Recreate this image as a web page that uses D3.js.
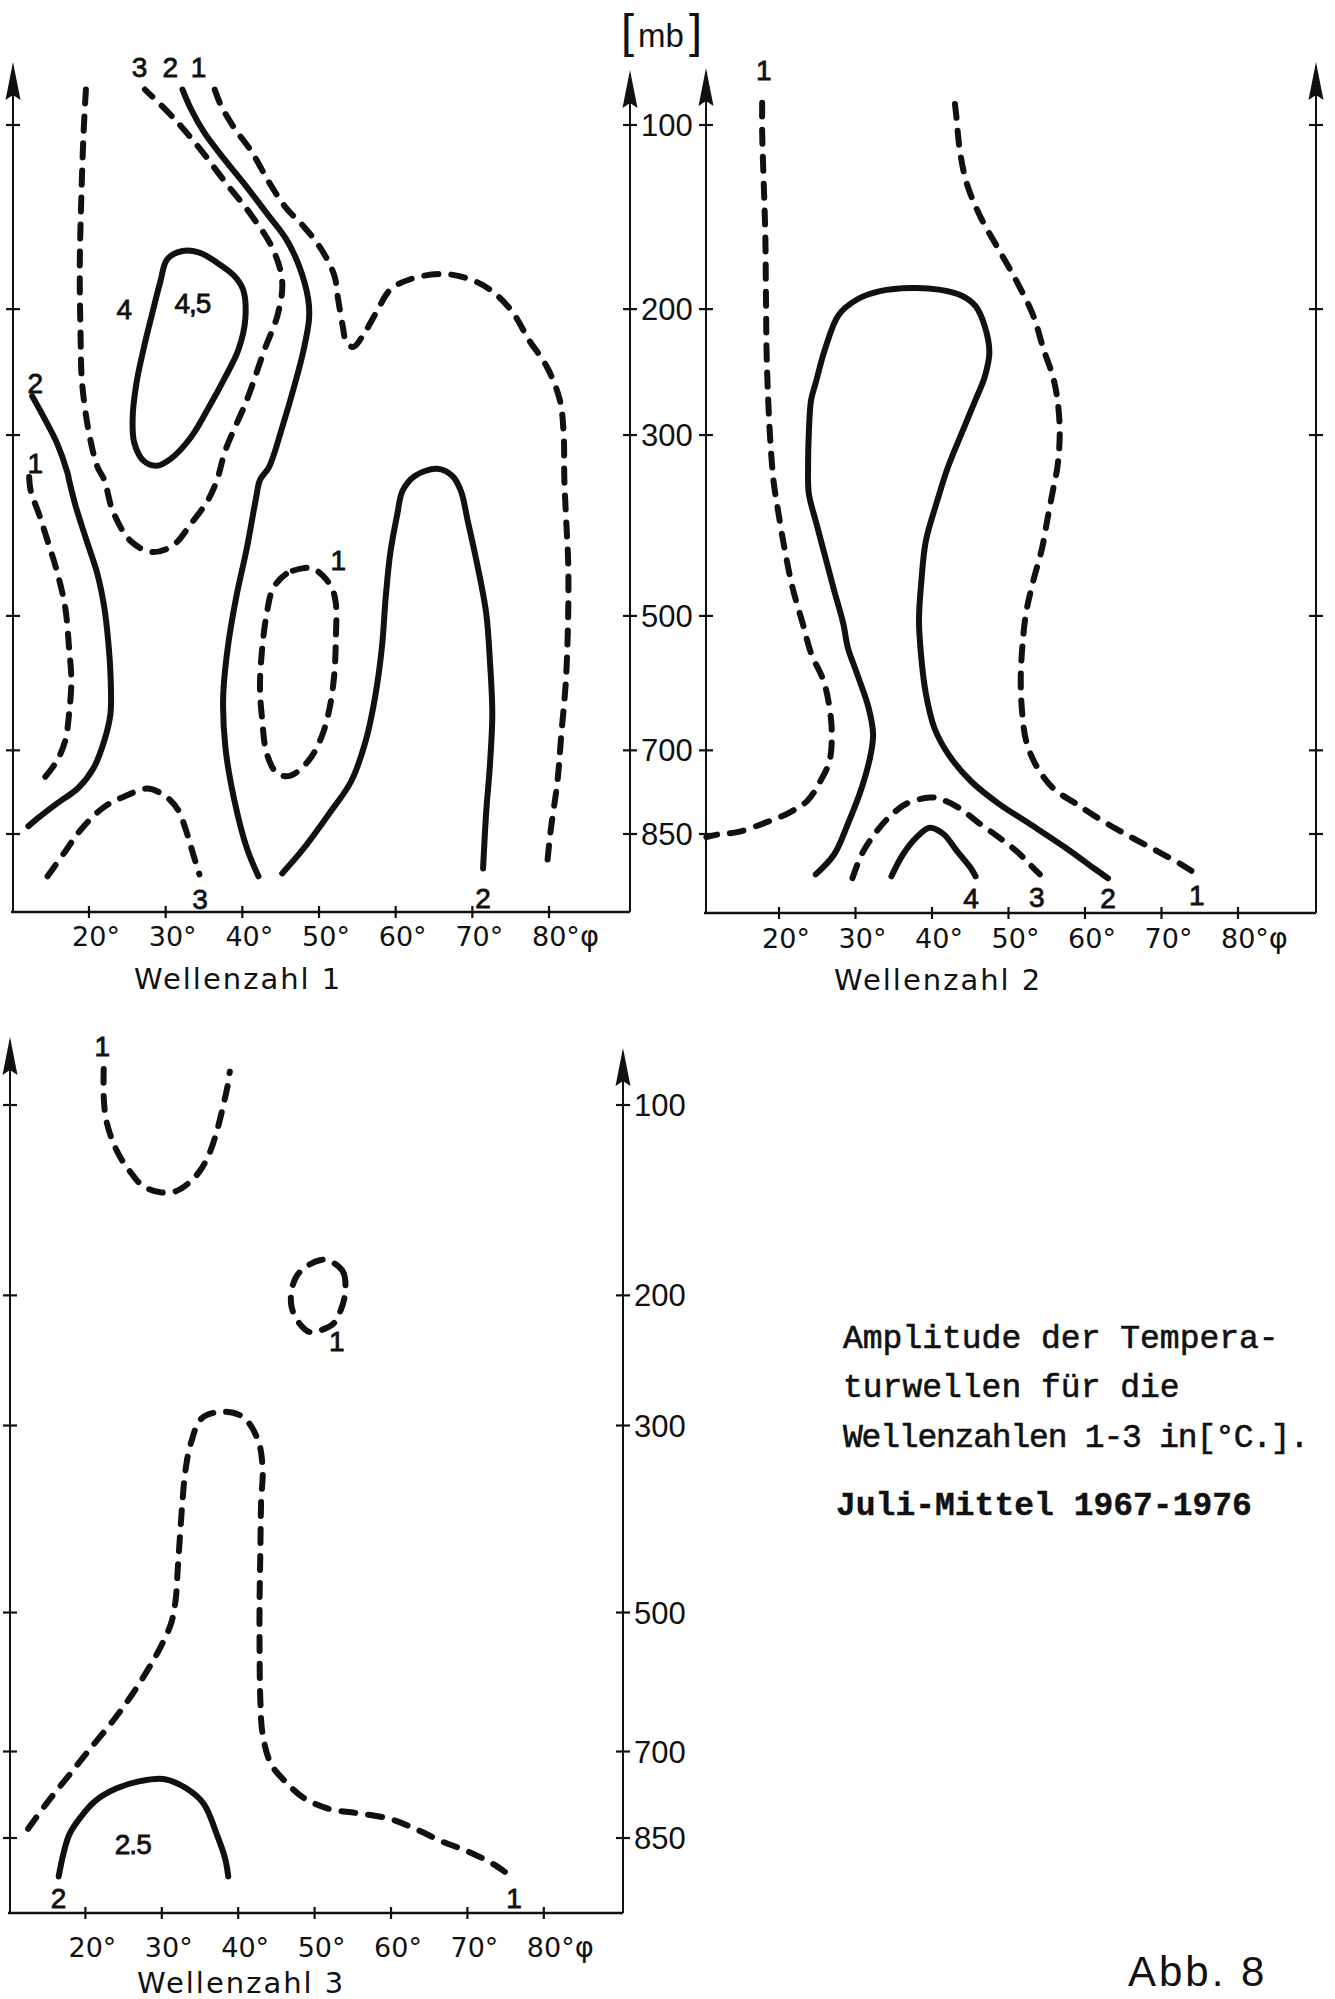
<!DOCTYPE html>
<html><head><meta charset="utf-8">
<script src="https://cdn.jsdelivr.net/npm/d3@7"></script>
<style>body{margin:0;background:#fff}</style>
</head><body>
<svg id="c" width="1335" height="1999"></svg>
<script>
// ---------- axes values ----------
const latTicks = [20, 30, 40, 50, 60, 70, 80];
const pTicks = [100, 200, 300, 500, 700, 850];
const pTickLabels = ["100", "200", "300", "500", "700", "850"];
const panelTitles = ["Wellenzahl 1", "Wellenzahl 2", "Wellenzahl 3"];

// ---------- Wellenzahl 1 contours: [latitude °, pressure mb] ----------
const w1_c3_top = [[19.6,86],[19.3,103],[19.0,134],[18.8,172],[18.9,217],[19.1,255],[20.0,298],[21.1,330],[22.0,343],[23.1,375],[25.4,408],[28.2,421],[31.0,413],[33.3,389],[35.5,364],[36.7,343],[37.8,314],[40.6,269],[42.9,229],[44.6,204],[45.2,182],[44.0,162],[41.2,143],[37.8,126],[34.4,110],[31.0,97],[27.3,86]];
const w1_c2_top = [[32.2,86],[33.3,93.5],[35.0,103],[37.2,113],[40.1,126],[43.5,143.5],[45.7,156],[47.4,172],[48.6,193.5],[48.7,207],[48.0,229],[46.9,255],[45.2,293],[43.5,330],[42.3,343],[41.8,361],[40.6,416],[39.2,476],[38.1,543],[37.5,616],[37.8,696],[38.9,783],[40.6,878],[42.1,934]];
const w1_c1_top = [[36.4,86],[37.2,92],[38.9,101],[41.2,111.5],[43.5,126],[45.7,139],[48.0,149],[50.3,162],[52.0,178],[52.5,193.5],[53.1,212],[53.6,224],[54.5,227],[55.9,217],[57.6,201],[59.3,187],[62.1,180],[66.1,177],[69.5,180],[72.3,187],[75.1,201],[77.4,222],[79.7,242],[81.4,269],[81.9,298],[82.0,343],[82.2,379],[82.5,434],[82.5,496],[82.2,590],[81.6,674],[81.1,753],[80.2,845],[79.7,918]];
const w1_c4_loop = [[32.2,163],[30.2,168],[29.3,182],[28.2,204],[27.1,229],[26.2,255],[25.7,284],[25.9,307],[27.1,324],[28.8,329],[30.7,322],[33.3,302],[35.5,277],[37.8,250],[39.5,229],[40.4,206],[40.1,187],[38.9,178],[36.7,170],[34.4,164]];
const w1_c2_left = [[12.6,266],[14.1,284],[15.8,307],[17.2,336],[17.4,343],[18.3,371],[19.7,408],[21.1,447],[22.0,489],[22.5,533],[22.8,580],[22.8,641],[22.0,684],[20.6,730],[18.6,765],[15.8,793],[13.5,818],[12.1,835]];
const w1_c1_left = [[12.2,340],[12.4,354],[13.5,379],[14.6,408],[15.8,443],[16.9,489],[17.4,543],[17.7,590],[17.4,641],[16.9,684],[15.8,718],[14.1,748],[13.2,758]];
const w1_c3_bottom = [[14.6,934],[16.9,884],[19.1,839],[22.0,799],[24.8,779],[27.6,766],[29.9,779],[31.6,804],[32.7,845],[33.6,890],[34.4,930]];
const w1_c1_loop = [[48.0,440],[45.7,447],[44.0,465],[43.2,496],[42.6,543],[42.3,600],[42.6,651],[43.2,706],[44.6,740],[46.3,743],[48.6,718],[50.3,679],[51.4,631],[52.0,580],[52.2,529],[52.2,484],[51.7,465],[50.5,449],[49.1,440]];
const w1_c2_arch = [[45.2,928],[48.0,878],[51.4,810],[54.2,753],[56.1,684],[57.3,616],[58.2,543],[58.7,476],[59.3,422],[60.2,379],[60.9,354],[62.5,339],[65.4,332],[67.4,339],[68.5,354],[69.4,386],[70.6,434],[71.8,496],[72.3,563],[72.6,641],[72.3,723],[71.8,810],[71.4,918]];
const w1_labels = [[26.6,78,"3"],[30.6,78,"2"],[34.3,78,"1"],[24.6,200,"4"],[33.5,196,"4,5"],[13.0,255,"2"],[13.0,326,"1"],[52.5,430,"1"],[34.5,982,"3"],[71.4,980,"2"]];

// ---------- Wellenzahl 2 contours ----------
const w2_c1_left = [[17.8,91],[17.8,103],[18.0,126],[18.2,152],[18.3,193.5],[18.4,236],[18.8,298],[19.3,345],[19.8,371],[20.7,416],[21.8,465],[23.1,510],[24.2,551],[25.8,590],[26.6,631],[26.9,673],[26.6,718],[25.4,753],[23.7,788],[21.3,810],[18.3,828],[14.7,846],[12.0,851],[10.5,856]];
const w2_c2 = [[24.8,930],[27.2,890],[29.0,831],[30.8,765],[32.0,706],[32.3,673],[31.7,631],[30.2,580],[29.0,543],[28.4,510],[27.2,467],[26.0,425],[24.8,386],[23.9,357],[23.8,330],[23.9,298],[24.2,269],[24.8,255],[26.0,229],[27.8,204],[30.2,193.5],[33.2,188],[37.4,186],[40.9,187],[43.9,191],[45.7,198],[46.9,212],[47.5,231],[46.9,250],[45.7,269],[43.9,298],[42.1,330],[40.7,364],[39.2,408],[38.6,457],[38.3,506],[38.6,557],[39.2,610],[40.3,663],[42.1,706],[45.1,753],[48.7,793],[52.8,831],[57.6,878],[61.2,918],[63.0,938]];
const w2_c1_right = [[43.0,91.5],[43.2,97],[43.6,110],[44.5,126],[46.3,143.5],[48.7,162],[51.1,182],[53.2,204],[54.6,229],[55.8,250],[56.4,269],[56.7,298],[56.4,330],[55.9,350],[55.2,379],[54.4,416],[53.2,457],[52.3,496],[51.8,543],[51.6,590],[51.8,641],[52.3,684],[53.5,723],[55.8,765],[58.8,793],[62.4,826],[66.0,856],[69.5,884],[72.6,910],[74.6,930]];
const w2_c3 = [[29.6,938],[30.8,890],[32.5,850],[34.4,818],[36.7,793],[39.7,782],[40.9,784],[43.3,799],[46.3,831],[48.7,856],[51.1,884],[52.8,910],[54.1,930]];
const w2_c4 = [[34.7,934],[36.2,890],[38.0,856],[39.7,838],[41.5,850],[43.3,884],[45.1,918],[45.7,934]];
const w2_labels = [[18.0,79,"1"],[45.1,980,"4"],[53.7,977,"3"],[63.0,980,"2"],[74.6,973,"1"]];

// ---------- Wellenzahl 3 contours ----------
const w3_c1_top = [[22.4,86.2],[22.4,97],[22.7,105.8],[23.6,115.7],[24.7,123.5],[25.8,129.2],[27.5,136.5],[29.8,139.8],[31.8,139.3],[33.8,134.2],[35.2,128],[36.3,120.3],[37.2,111],[38.0,100.8],[38.6,92.7],[38.9,87.2]];
const w3_c1_loop = [[51.7,177.6],[53.7,184.7],[54.0,198.4],[53.4,210.2],[52.5,219.1],[50.8,224],[49.4,225.4],[48.0,219.1],[47.0,208],[47.0,196.3],[47.7,187.2],[49.1,181],[50.8,177.6]];
const w3_c1_big = [[12.5,833.1],[15.1,784.3],[17.9,738.5],[20.7,694.4],[23.6,651.9],[25.8,617.3],[28.1,577.8],[29.8,545.9],[31.2,514.4],[31.8,485],[32.1,445.3],[32.4,406.7],[32.7,373],[33.1,341.2],[33.8,316.1],[35.2,293.9],[37.8,288.1],[40.6,292.4],[42.6,313.2],[43.2,341.2],[43.0,372],[42.9,425.6],[42.8,485],[42.8,550],[42.9,621.8],[43.2,672.4],[44.3,720.6],[46.3,751.5],[48.6,778.0],[52.0,797.6],[55.4,804.5],[59.9,815.1],[63.3,833.9],[66.7,856.6],[70.1,875.4],[73.5,900.4],[76.1,927.6]];
const w3_c2 = [[16.5,923.6],[17.1,881],[17.9,843.3],[19.3,813.2],[21.3,783],[24.1,761.3],[27.0,749.4],[30.4,745.8],[33.2,761.3],[35.5,788.4],[37.2,843.3],[38.3,889.4],[38.7,923.6]];
const w3_labels = [[22.2,78,"1"],[52.9,232,"1"],[16.5,967,"2"],[26.2,861,"2.5"],[76.1,967,"1"]];

const panel1 = [{level:3,pts:w1_c3_top},{level:2,pts:w1_c2_top},{level:1,pts:w1_c1_top},{level:4,pts:w1_c4_loop,closed:true},{level:2,pts:w1_c2_left},{level:1,pts:w1_c1_left},{level:3,pts:w1_c3_bottom},{level:1,pts:w1_c1_loop,closed:true},{level:2,pts:w1_c2_arch}];
const panel2 = [{level:1,pts:w2_c1_left},{level:2,pts:w2_c2},{level:1,pts:w2_c1_right},{level:3,pts:w2_c3},{level:4,pts:w2_c4}];
const panel3 = [{level:1,pts:w3_c1_top},{level:1,pts:w3_c1_loop,closed:true},{level:1,pts:w3_c1_big},{level:2,pts:w3_c2}];

const captionLines = ["Amplitude der Tempera-", "turwellen für die", "Wellenzahlen 1-3 in[°C.]."];
const captionPeriod = "Juli-Mittel 1967-1976";
const figLabel = "Abb. 8";

// ---------- drawing ----------
const svg = d3.select("#c");
const INK = "#111";
const SANS = "'Liberation Sans', Arial, sans-serif";
const WIDE = "'DejaVu Sans', Verdana, sans-serif";

function arrowUp(g, x, tip){
  g.append("path").attr("d", `M${x},${tip} L${x-7.5},${tip+38} L${x},${tip+33} L${x+7.5},${tip+38} Z`).attr("fill", INK);
}

function drawPanel(cfg){
  const x = d3.scaleLinear().domain([10, 90]).range(cfg.xr);
  const y = d3.scalePow().exponent(0.286).domain([100, 850]).range(cfg.yr);
  const g = svg.append("g");

  // axes
  g.append("line").attr("x1", cfg.left).attr("x2", cfg.left).attr("y1", cfg.bottom).attr("y2", cfg.leftTip+4).attr("stroke", INK).attr("stroke-width", 2);
  g.append("line").attr("x1", cfg.right).attr("x2", cfg.right).attr("y1", cfg.bottom).attr("y2", cfg.rightTip+4).attr("stroke", INK).attr("stroke-width", 2);
  g.append("line").attr("x1", cfg.left-2).attr("x2", cfg.right).attr("y1", cfg.bottom).attr("y2", cfg.bottom).attr("stroke", INK).attr("stroke-width", 2.5);
  arrowUp(g, cfg.left, cfg.leftTip);
  arrowUp(g, cfg.right, cfg.rightTip);

  // pressure ticks
  pTicks.forEach((p, i) => {
    [cfg.left, cfg.right].forEach(ax => {
      g.append("line").attr("x1", ax-7).attr("x2", ax+7).attr("y1", y(p)).attr("y2", y(p)).attr("stroke", INK).attr("stroke-width", 2.2);
    });
    if (cfg.pLabels){
      g.append("text").attr("x", cfg.right+11).attr("y", y(p)+11).attr("font-family", SANS).attr("font-size", 31).attr("fill", INK).text(pTickLabels[i]);
    }
  });

  // latitude ticks
  latTicks.forEach(l => {
    g.append("line").attr("x1", x(l)).attr("x2", x(l)).attr("y1", cfg.bottom-6).attr("y2", cfg.bottom+6).attr("stroke", INK).attr("stroke-width", 2.2);
    const t = g.append("text").attr("y", cfg.tickBase).attr("font-family", WIDE).attr("font-size", 27).attr("fill", INK);
    if (l === 80){
      t.attr("x", x(l)-17).attr("text-anchor", "start").text("80°");
      t.append("tspan").attr("font-size", 29).text("φ");
    } else {
      t.attr("x", x(l)+7).attr("text-anchor", "middle").text(l + "°");
    }
  });
  g.append("text").attr("x", cfg.titleX).attr("y", cfg.titleBase).attr("font-family", WIDE).attr("font-size", 29).attr("letter-spacing", 2).attr("fill", INK).text(cfg.title);

  // contours
  cfg.contours.forEach(c => {
    const line = d3.line().x(d => x(d[0])).y(d => y(d[1]))
      .curve(c.closed ? d3.curveCatmullRomClosed.alpha(0.5) : d3.curveCatmullRom.alpha(0.5));
    const dashed = c.level % 2 === 1;
    g.append("path").attr("d", line(c.pts)).attr("fill", "none").attr("stroke", INK)
      .attr("stroke-width", 6).attr("stroke-linecap", "round").attr("stroke-linejoin", "round")
      .attr("stroke-dasharray", dashed ? "14 13" : null);
  });
  cfg.labels.forEach(lb => {
    g.append("text").attr("x", x(lb[0])).attr("y", y(lb[1])).attr("dy", "0.36em").attr("text-anchor", "middle")
      .attr("font-family", SANS).attr("font-size", 28).attr("letter-spacing", lb[2].length > 1 ? -1 : 0)
      .attr("fill", INK).attr("stroke", INK).attr("stroke-width", 0.8).text(lb[2]);
  });
}

drawPanel({xr:[12.3,625.7], yr:[125,834], left:13, right:630, bottom:912, leftTip:62, rightTip:70, pLabels:true,
  tickBase:946, title:panelTitles[0], titleX:134, titleBase:989, contours:panel1, labels:w1_labels});
drawPanel({xr:[702.5,1314.5], yr:[125,834], left:706, right:1316, bottom:913, leftTip:68, rightTip:62, pLabels:false,
  tickBase:948, title:panelTitles[1], titleX:834, titleBase:990, contours:panel2, labels:w2_labels});
drawPanel({xr:[9,620.2], yr:[1105,1838], left:10, right:623, bottom:1913, leftTip:1037, rightTip:1048, pLabels:true,
  tickBase:1957, title:panelTitles[2], titleX:137, titleBase:1993, contours:panel3, labels:w3_labels});

// [mb]
svg.append("text").attr("x", 621).attr("y", 47).attr("font-family", SANS).attr("font-size", 47).attr("fill", INK).text("[");
svg.append("text").attr("x", 638).attr("y", 47).attr("font-family", SANS).attr("font-size", 33).attr("fill", INK).text("mb");
svg.append("text").attr("x", 689).attr("y", 47).attr("font-family", SANS).attr("font-size", 47).attr("fill", INK).text("]");

// caption
const MONO = "'Liberation Mono', 'Courier New', monospace";
const capY = [1348, 1397, 1447];
captionLines.forEach((t, i) => {
  svg.append("text").attr("x", 843).attr("y", capY[i]).attr("font-family", MONO).attr("font-size", 33)
    .attr("letter-spacing", i === 2 ? -1.2 : 0)
    .attr("fill", INK).attr("stroke", INK).attr("stroke-width", 0.6).text(t);
});
svg.append("text").attr("x", 836).attr("y", 1515).attr("font-family", MONO).attr("font-size", 33).attr("font-weight", "bold")
  .attr("fill", INK).attr("stroke", INK).attr("stroke-width", 0.4).text(captionPeriod);
svg.append("text").attr("x", 1128).attr("y", 1986).attr("font-family", SANS).attr("font-size", 42).attr("letter-spacing", 3).attr("fill", INK).text(figLabel);
</script>
</body></html>
